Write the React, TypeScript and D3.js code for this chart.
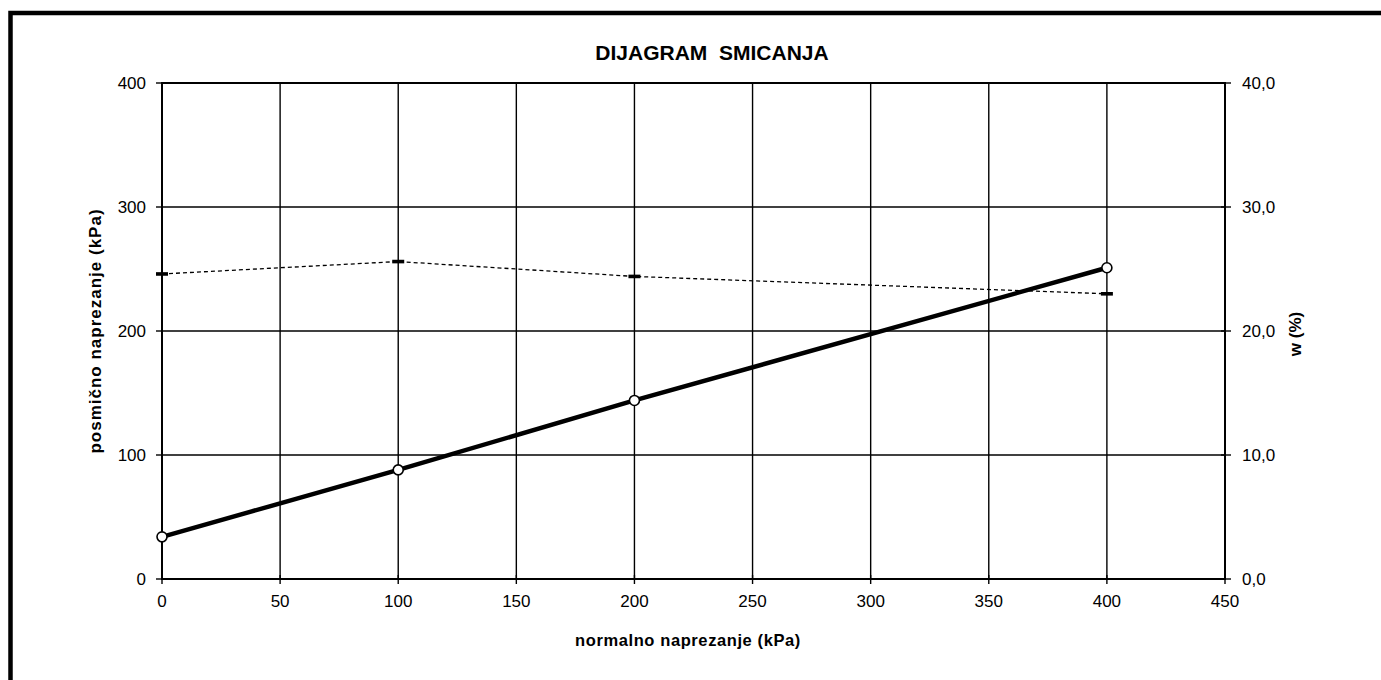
import React, { useEffect, useRef } from 'react';
import * as d3 from 'd3';

// normal stress (kPa) at each test
const normalStress = [0, 100, 200, 400];
// shear stress (kPa)
const shearStress = [34, 88, 144, 251];
// water content w (%)
const waterContent = [24.6, 25.6, 24.4, 23.0];

const xTicks = [0, 50, 100, 150, 200, 250, 300, 350, 400, 450];
const yTicks = [0, 100, 200, 300, 400];
const wTicks = [0, 10, 20, 30, 40];

const titleText = 'DIJAGRAM  SMICANJA';
const xLabel = 'normalno naprezanje (kPa)';
const yLabel = 'posmično naprezanje (kPa)';
const wLabel = 'w (%)';

const ShearDiagram: React.FC = () => {
    const svgRef = useRef<SVGSVGElement | null>(null);

    useEffect(() => {
        if (!svgRef.current) return;
        const font = '"Liberation Sans", Arial, sans-serif';
        const left = 162, right = 1225, top = 83, bottom = 579;

        const x = d3.scaleLinear().domain([0, 450]).range([left, right]);
        const y = d3.scaleLinear().domain([0, 400]).range([bottom, top]);
        const yw = d3.scaleLinear().domain([0, 40]).range([bottom, top]);

        const svg = d3.select(svgRef.current);
        svg.selectAll('*').remove();

        // outer frame
        svg.append('rect')
            .attr('x', 10.5).attr('y', 13)
            .attr('width', 1400).attr('height', 700)
            .attr('fill', 'none')
            .attr('stroke', '#000')
            .attr('stroke-width', 4.5);

        // title
        svg.append('text')
            .attr('x', 712).attr('y', 60)
            .attr('text-anchor', 'middle')
            .attr('font-family', font)
            .attr('font-weight', 'bold')
            .attr('font-size', 21)
            .style('white-space', 'pre')
            .text(titleText);

        // grid
        svg.append('g').selectAll('line')
            .data(xTicks)
            .enter().append('line')
            .attr('x1', d => x(d)).attr('x2', d => x(d))
            .attr('y1', top).attr('y2', bottom)
            .attr('stroke', '#000').attr('stroke-width', 1.4);
        svg.append('g').selectAll('line')
            .data(yTicks)
            .enter().append('line')
            .attr('x1', left).attr('x2', right)
            .attr('y1', d => y(d)).attr('y2', d => y(d))
            .attr('stroke', '#000').attr('stroke-width', 1.4);

        // plot border
        svg.append('rect')
            .attr('x', left).attr('y', top)
            .attr('width', right - left).attr('height', bottom - top)
            .attr('fill', 'none').attr('stroke', '#000').attr('stroke-width', 2);

        // left axis
        const gl = svg.append('g');
        gl.selectAll('line').data(yTicks).enter().append('line')
            .attr('x1', left - 6).attr('x2', left)
            .attr('y1', d => y(d)).attr('y2', d => y(d))
            .attr('stroke', '#000').attr('stroke-width', 1.4);
        gl.selectAll('text').data(yTicks).enter().append('text')
            .attr('x', 146).attr('y', d => y(d) + 6)
            .attr('text-anchor', 'end')
            .attr('font-family', font).attr('font-size', 17)
            .text(d => String(d));

        // right axis
        const gr = svg.append('g');
        gr.selectAll('line').data(wTicks).enter().append('line')
            .attr('x1', right - 4).attr('x2', right + 6)
            .attr('y1', d => yw(d)).attr('y2', d => yw(d))
            .attr('stroke', '#000').attr('stroke-width', 1.4);
        gr.selectAll('text').data(wTicks).enter().append('text')
            .attr('x', 1242).attr('y', d => yw(d) + 6)
            .attr('font-family', font).attr('font-size', 17)
            .text(d => d3.format('.1f')(d).replace('.', ','));

        // bottom axis
        const gb = svg.append('g');
        gb.selectAll('line').data(xTicks).enter().append('line')
            .attr('x1', d => x(d)).attr('x2', d => x(d))
            .attr('y1', bottom - 4).attr('y2', bottom + 5)
            .attr('stroke', '#000').attr('stroke-width', 1.4);
        gb.selectAll('text').data(xTicks).enter().append('text')
            .attr('x', d => x(d)).attr('y', 607)
            .attr('text-anchor', 'middle')
            .attr('font-family', font).attr('font-size', 17)
            .text(d => String(d));

        // axis titles
        svg.append('text')
            .attr('x', 688).attr('y', 646)
            .attr('text-anchor', 'middle')
            .attr('font-family', font).attr('font-weight', 'bold').attr('font-size', 16.5)
            .attr('letter-spacing', 0.6)
            .text(xLabel);
        svg.append('text')
            .attr('transform', `translate(101,${(top + bottom) / 2}) rotate(-90)`)
            .attr('text-anchor', 'middle')
            .attr('font-family', font).attr('font-weight', 'bold').attr('font-size', 17)
            .attr('letter-spacing', 1)
            .text(yLabel);
        svg.append('text')
            .attr('transform', `translate(1301,${(top + bottom) / 2 + 3}) rotate(-90)`)
            .attr('text-anchor', 'middle')
            .attr('font-family', font).attr('font-weight', 'bold').attr('font-size', 17)
            .text(wLabel);

        // water content series (dashed, right axis)
        const wLine = d3.line<number>()
            .x((_, i) => x(normalStress[i]))
            .y(d => yw(d));
        svg.append('path')
            .datum(waterContent)
            .attr('d', wLine)
            .attr('fill', 'none')
            .attr('stroke', '#000')
            .attr('stroke-width', 1.3)
            .attr('stroke-dasharray', '4,3');
        svg.append('g').selectAll('rect')
            .data(waterContent)
            .enter().append('rect')
            .attr('x', (_, i) => x(normalStress[i]) - 6)
            .attr('y', d => yw(d) - 1.8)
            .attr('width', 12).attr('height', 3.6)
            .attr('fill', '#000');

        // shear stress series (thick solid)
        const sLine = d3.line<number>()
            .x((_, i) => x(normalStress[i]))
            .y(d => y(d));
        svg.append('path')
            .datum(shearStress)
            .attr('d', sLine)
            .attr('fill', 'none')
            .attr('stroke', '#000')
            .attr('stroke-width', 4.5);
        svg.append('g').selectAll('circle')
            .data(shearStress)
            .enter().append('circle')
            .attr('cx', (_, i) => x(normalStress[i]))
            .attr('cy', d => y(d))
            .attr('r', 5)
            .attr('fill', '#fff')
            .attr('stroke', '#000')
            .attr('stroke-width', 1.6);
    }, []);

    return (
        <svg
            ref={svgRef}
            width={1381}
            height={680}
            style={{ position: 'absolute', left: 0, top: 0, background: '#fff' }}
        />
    );
};

export default function App() {
    return <ShearDiagram />;
}
